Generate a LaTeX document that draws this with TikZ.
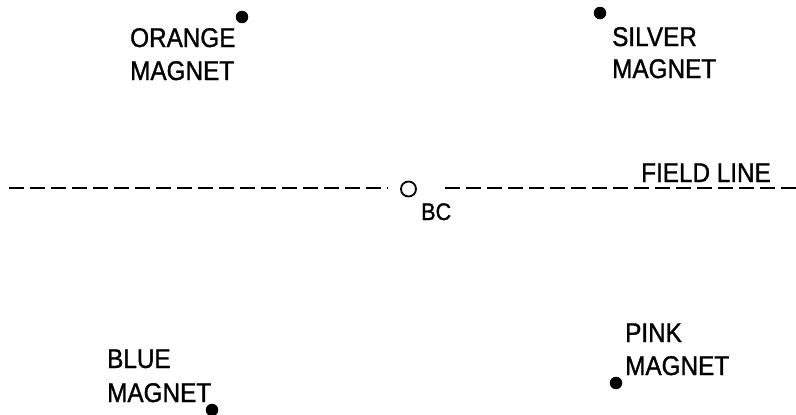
\documentclass[tikz,border=0pt]{standalone}
\usepackage{fontspec}
\setmainfont[FakeStretch=0.9,FakeBold=1.2]{Liberation Sans}
\begin{document}
\begin{tikzpicture}[x=1pt,y=-1pt,
  lbl/.style={anchor=base west,inner sep=0pt,font=\fontsize{27}{30}\selectfont},
  smalllbl/.style={anchor=base west,inner sep=0pt,font=\fontsize{24}{27}\selectfont},
  magdot/.style={circle,fill=black,inner sep=0pt,minimum size=12.5pt},
  bcring/.style={circle,draw=black,line width=1.8pt,inner sep=0pt,minimum size=15pt},
  fieldline/.style={line width=2.7pt,dash pattern=on 15pt off 6pt}]
\useasboundingbox (0,0) rectangle (796,415);
% magnets
\node[magdot] (od) at (242,17) {};
\node[lbl] (o1) at (130,47) {ORANGE};
\node[lbl] (o2) at (130,80) {MAGNET};
\node[magdot] (sd) at (600,13) {};
\node[lbl] (s1) at (612,46) {SILVER};
\node[lbl] (s2) at (612,78) {MAGNET};
\node[magdot] (bd) at (212,410) {};
\node[lbl] (b1) at (107,368) {BLUE};
\node[lbl] (b2) at (107,402) {MAGNET};
\node[magdot] (pd) at (616,383) {};
\node[lbl] (p1) at (625,342) {PINK};
\node[lbl] (p2) at (625,375) {MAGNET};
% field line and BC
\node[bcring] (bc) at (408.5,189) {};
\node[smalllbl] (bct) at (421,220) {BC};
\node[lbl] (fl) at (641,182) {FIELD LINE};
\coordinate (l1) at (9,188);
\coordinate (l2) at (388,188);
\coordinate (r1) at (445,188);
\coordinate (r2) at (796,188);
\draw[fieldline] (l1) -- (l2);
\draw[fieldline] (r1) -- (r2);
\end{tikzpicture}
\end{document}
